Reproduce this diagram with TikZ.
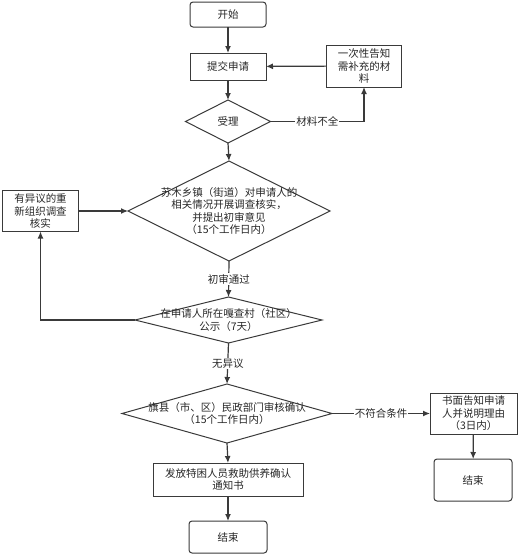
\documentclass[tikz,border=0pt]{standalone}
\usepackage{fontspec}
\setmainfont{Noto Sans CJK SC}
\usetikzlibrary{shapes.geometric,arrows.meta}
\definecolor{ln}{HTML}{3A3A3A}
\tikzset{
  x=1pt,y=-1pt,
  every node/.style={font=\fontsize{10.5}{12.5}\selectfont,text=black!85,align=center,inner sep=0pt,outer sep=0pt},
  boxnode/.style={draw=ln,line width=1pt,rectangle},
  roundnode/.style={draw=ln,line width=1pt,rectangle,rounded corners=3pt},
  dia/.style={draw=ln,line width=1pt,diamond},
  arr/.style={draw=ln,line width=1.2pt,-{Latex[length=7pt,width=6pt]}},
  lab/.style={fill=white,inner sep=1pt}
}
\begin{document}
\begin{tikzpicture}
\useasboundingbox (0,0) rectangle (519,555);
\node[roundnode,minimum width=76pt,minimum height=25pt] (start) at (228,14.5) {开始};
\node[boxnode,minimum width=76pt,minimum height=27pt] (submit) at (228,66.5) {提交申请};
\node[boxnode,minimum width=75pt,minimum height=42pt] (notify) at (364,66) {一次性告知\\需补充的材\\料};
\node[dia,minimum width=85pt,minimum height=43pt,aspect=2] (accept) at (228,121.5) {};
\node at (accept) {受理};
\node[dia,minimum width=202pt,minimum height=100pt,aspect=2] (town) at (229,211) {};
\node at (town) {苏木乡镇（街道）对申请人的\\相关情况开展调查核实，\\并提出初审意见\\（15个工作日内）};
\node[boxnode,minimum width=76pt,minimum height=41pt] (recheck) at (40.5,211) {有异议的重\\新组织调查\\核实};
\node[dia,minimum width=187pt,minimum height=46pt,aspect=4] (pub) at (228.5,320) {};
\node at (pub) {在申请人所在嘎查村（社区）\\公示（7天）};
\node[dia,minimum width=210pt,minimum height=59pt,aspect=3.5] (county) at (227,413.5) {};
\node at (county) {旗县（市、区）民政部门审核确认\\（15个工作日内）};
\node[boxnode,minimum width=87pt,minimum height=41pt] (written) at (473.5,413.5) {书面告知申请\\人并说明理由\\（3日内）};
\node[roundnode,minimum width=78pt,minimum height=42pt] (endr) at (473,480) {结束};
\node[boxnode,minimum width=150pt,minimum height=33pt] (issue) at (228,479.5) {发放特困人员救助供养确认\\通知书};
\node[roundnode,minimum width=78pt,minimum height=32pt] (endb) at (228,537) {结束};

\draw[arr] (start) -- (submit);
\draw[arr] (submit) -- (accept);
\draw[arr] (accept.east) -| node[pos=0.25,lab] {材料不全} (notify.south);
\draw[arr] (notify) -- (submit);
\draw[arr] (accept.south) -- (town.north);
\draw[arr] (recheck.east) -- (town.west);
\draw[arr] (town.south) -- node[lab] {初审通过} (pub.north);
\draw[arr] (pub.west) -| (recheck.south);
\draw[arr] (pub.south) -- node[lab] {无异议} (county.north);
\draw[arr] (county.east) -- node[lab] {不符合条件} (written.west);
\draw[arr] (written) -- (endr);
\draw[arr] (county.south) -- (issue.north);
\draw[arr] (issue) -- (endb);
\end{tikzpicture}
\end{document}
